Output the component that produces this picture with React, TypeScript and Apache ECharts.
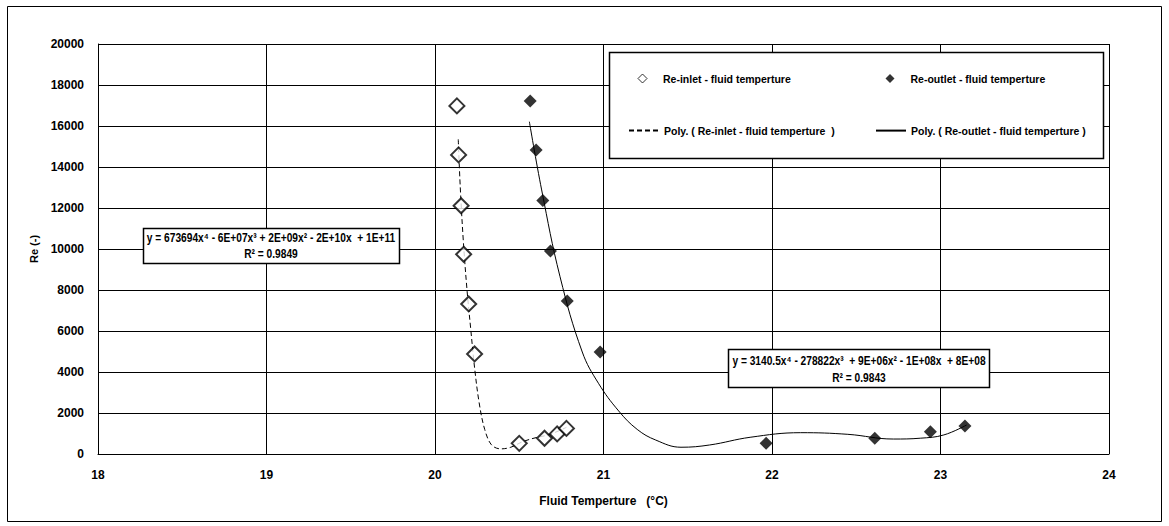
import React, { useEffect, useRef } from "react";
import * as echarts from "echarts";

// Measured points
const inletTemp = [20.13, 20.14, 20.155, 20.17, 20.2, 20.235, 20.5, 20.65, 20.725, 20.78];
const inletRe = [16980, 14590, 12110, 9740, 7320, 4880, 520, 770, 980, 1250];

const outletTemp = [20.565, 20.6, 20.64, 20.685, 20.785, 20.98, 21.965, 22.61, 22.94, 23.145];
const outletRe = [17220, 14830, 12360, 9900, 7460, 4980, 520, 770, 1090, 1360];

// Trend lines
const inletFitTemp = [20.138, 20.15, 20.168, 20.19, 20.212, 20.235, 20.262, 20.295, 20.335, 20.39, 20.45, 20.52, 20.6, 20.68, 20.78];
const inletFitRe = [15350, 13000, 10400, 8000, 6100, 4200, 2500, 1200, 450, 250, 330, 600, 800, 950, 1300];

const outletFitTemp = [20.56, 20.633, 20.742, 20.874, 20.97, 21.09, 21.2, 21.31, 21.46, 21.63, 21.87, 22.17, 22.45, 22.72, 22.88, 23.02, 23.155];
const outletFitRe = [16210, 12880, 8650, 4975, 3450, 2100, 1200, 680, 330, 440, 815, 1040, 960, 730, 770, 930, 1415];

const xTicks = { min: 18, max: 24, interval: 1 };
const yTicks = { min: 0, max: 20000, interval: 2000 };

const inletName = "Re-inlet - fluid temperture";
const outletName = "Re-outlet - fluid temperture";
const inletFitName = "Poly. ( Re-inlet - fluid temperture  )";
const outletFitName = "Poly. ( Re-outlet - fluid temperture )";

const inletEq = ["y = 673694x⁴ - 6E+07x³ + 2E+09x² - 2E+10x  + 1E+11", "R² = 0.9849"];
const outletEq = ["y = 3140.5x⁴ - 278822x³  + 9E+06x² - 1E+08x  + 8E+08", "R² = 0.9843"];

const zip = (a: number[], b: number[]) => a.map((v, i) => [v, b[i]]);

const SANS = "'Liberation Sans', Arial, sans-serif";

export default function App() {
  const ref = useRef<HTMLDivElement>(null);
  useEffect(() => {
    if (!ref.current) return;
    const chart = echarts.init(ref.current, undefined, { renderer: "svg" });
    const legendText = { fontFamily: SANS, fontWeight: "bold" as const, fontSize: 10.5, color: "#000" };
    const eqText = (x: number, y: number, t: string) => ({
      type: "text",
      x,
      y,
      z: 11,
      scaleX: 0.85,
      style: { text: t, fontFamily: SANS, fontWeight: "bold", fontSize: 12, fill: "#000", align: "center", verticalAlign: "middle" },
    });
    const hideSymbol = { color: "rgba(0,0,0,0)", borderWidth: 0, opacity: 0 };
    chart.setOption({
      animation: false,
      backgroundColor: "#fff",
      grid: { left: 98, top: 44, right: 60, bottom: 72, containLabel: false },
      xAxis: {
        type: "value",
        min: xTicks.min,
        max: xTicks.max,
        interval: xTicks.interval,
        name: "Fluid Temperture   (°C)",
        nameLocation: "middle",
        nameGap: 41,
        nameTextStyle: { fontFamily: SANS, fontWeight: "bold", fontSize: 12, color: "#000" },
        axisLine: { show: true, onZero: false, lineStyle: { color: "#000", width: 1 } },
        axisTick: { show: false },
        axisLabel: { margin: 15, fontFamily: SANS, fontWeight: "bold", fontSize: 12, color: "#000" },
        splitLine: { show: true, lineStyle: { color: "#000", width: 1 } },
      },
      yAxis: {
        type: "value",
        min: yTicks.min,
        max: yTicks.max,
        interval: yTicks.interval,
        name: "Re (-)",
        nameLocation: "middle",
        nameGap: 42,
        nameTextStyle: { fontFamily: SANS, fontWeight: "bold", fontSize: 11, color: "#000" },
        axisLine: { show: true, lineStyle: { color: "#000", width: 1 } },
        axisTick: { show: false },
        axisLabel: { margin: 14, fontFamily: SANS, fontWeight: "bold", fontSize: 12, color: "#000", formatter: (v: number) => String(v) },
        splitLine: { show: true, lineStyle: { color: "#000", width: 1 } },
      },
      legend: [
        { data: [inletName], left: 637.5, top: 73, padding: 0, itemWidth: 9, itemHeight: 9, itemStyle: { borderWidth: 1 }, textStyle: { ...legendText, padding: [0, 0, 0, 11] }, z: 5, selectedMode: false },
        { data: [outletName], left: 885.5, top: 73, padding: 0, itemWidth: 9, itemHeight: 9, textStyle: { ...legendText, padding: [0, 0, 0, 11] }, z: 5, selectedMode: false },
        { data: [inletFitName], left: 628, top: 125, padding: 0, itemWidth: 30, itemHeight: 14, itemStyle: hideSymbol, textStyle: legendText, z: 5, selectedMode: false },
        { data: [outletFitName], left: 875, top: 125, padding: 0, itemWidth: 30, itemHeight: 14, itemStyle: hideSymbol, textStyle: legendText, z: 5, selectedMode: false },
      ],
      graphic: [
        { type: "rect", z: 0, shape: { x: 7.5, y: 6.5, width: 1154, height: 515 }, style: { fill: "none", stroke: "#000", lineWidth: 1 } },
        { type: "rect", z: 3, shape: { x: 609.5, y: 52.5, width: 494, height: 106 }, style: { fill: "#fff", stroke: "#000", lineWidth: 1.5 } },
        { type: "rect", z: 10, shape: { x: 143.5, y: 228.5, width: 256, height: 35 }, style: { fill: "#fff", stroke: "#000", lineWidth: 1.5 } },
        eqText(271, 238, inletEq[0]),
        eqText(271, 254, inletEq[1]),
        { type: "rect", z: 10, shape: { x: 728.5, y: 349.5, width: 261, height: 38 }, style: { fill: "#fff", stroke: "#000", lineWidth: 1.5 } },
        eqText(859, 361, outletEq[0]),
        eqText(859, 378, outletEq[1]),
      ],
      series: [
        {
          name: inletFitName,
          type: "line",
          data: zip(inletFitTemp, inletFitRe),
          smooth: 0.35,
          symbol: "none",
          lineStyle: { color: "#000", width: 1, type: [5, 3] },
          itemStyle: { color: "#000" },
          z: 2,
        },
        {
          name: outletFitName,
          type: "line",
          data: zip(outletFitTemp, outletFitRe),
          smooth: 0.4,
          symbol: "none",
          lineStyle: { color: "#000", width: 1, type: "solid" },
          itemStyle: { color: "#000" },
          z: 2,
        },
        {
          name: inletName,
          type: "scatter",
          data: zip(inletTemp, inletRe),
          symbol: "diamond",
          symbolSize: 15,
          itemStyle: { color: "#fff", borderColor: "#000", borderWidth: 2 },
          z: 3,
        },
        {
          name: outletName,
          type: "scatter",
          data: zip(outletTemp, outletRe),
          symbol: "diamond",
          symbolSize: 13,
          itemStyle: { color: "#000", borderColor: "#000", borderWidth: 0 },
          z: 3,
        },
      ],
    });
    return () => chart.dispose();
  }, []);
  return <div ref={ref} style={{ position: "fixed", left: 0, top: 0, width: 1169, height: 526 }} />;
}
